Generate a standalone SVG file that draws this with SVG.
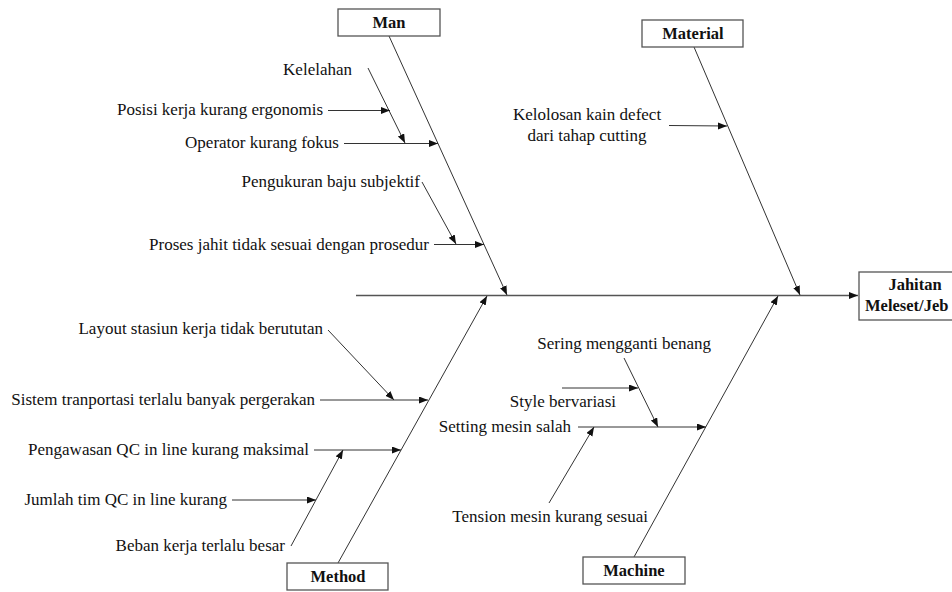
<svg xmlns="http://www.w3.org/2000/svg" width="952" height="592" viewBox="0 0 952 592">
<style>
.t{font-family:"Liberation Serif","Times New Roman",serif;font-size:17px;fill:#111}
.b{font-family:"Liberation Serif","Times New Roman",serif;font-size:16.5px;font-weight:bold;fill:#111;text-anchor:middle}
.e{text-anchor:end}
.box{fill:#fff;stroke:#555;stroke-width:1.3}
.ln{stroke:#333;stroke-width:1;fill:none}
.sp{stroke:#555;stroke-width:1.6;fill:none}
</style>
<defs>
<marker id="ar" markerUnits="userSpaceOnUse" markerWidth="10" markerHeight="8" refX="9" refY="3.5" orient="auto">
<path d="M0,0 L9,3.5 L0,7 z" fill="#111"/>
</marker>
</defs>
<rect width="952" height="592" fill="#fff"/>
<g id="connectors">
<line class="sp" x1="356" y1="295.5" x2="858" y2="295.5" marker-end="url(#ar)"/>
<line class="ln" x1="389" y1="36" x2="507" y2="295" marker-end="url(#ar)"/>
<line class="ln" x1="694" y1="47" x2="800" y2="295" marker-end="url(#ar)"/>
<line class="ln" x1="338" y1="563" x2="487" y2="296" marker-end="url(#ar)"/>
<line class="ln" x1="634" y1="557" x2="778" y2="296" marker-end="url(#ar)"/>
<line class="ln" x1="368" y1="68" x2="405" y2="143" marker-end="url(#ar)"/>
<line class="ln" x1="328" y1="110.5" x2="390" y2="110.5" marker-end="url(#ar)"/>
<line class="ln" x1="344" y1="143.5" x2="438" y2="143.5" marker-end="url(#ar)"/>
<line class="ln" x1="422" y1="182" x2="456" y2="244" marker-end="url(#ar)"/>
<line class="ln" x1="434" y1="244.5" x2="484" y2="244.5" marker-end="url(#ar)"/>
<line class="ln" x1="669" y1="125.5" x2="727" y2="126" marker-end="url(#ar)"/>
<line class="ln" x1="328" y1="330" x2="394" y2="400" marker-end="url(#ar)"/>
<line class="ln" x1="320" y1="400" x2="428" y2="400" marker-end="url(#ar)"/>
<line class="ln" x1="314" y1="450" x2="401" y2="450" marker-end="url(#ar)"/>
<line class="ln" x1="232" y1="500" x2="316" y2="500" marker-end="url(#ar)"/>
<line class="ln" x1="291" y1="546" x2="343" y2="450" marker-end="url(#ar)"/>
<line class="ln" x1="624" y1="358" x2="658" y2="427" marker-end="url(#ar)"/>
<line class="ln" x1="562" y1="388" x2="638" y2="388" marker-end="url(#ar)"/>
<line class="ln" x1="578" y1="427" x2="706" y2="427" marker-end="url(#ar)"/>
<line class="ln" x1="549" y1="503" x2="594" y2="427" marker-end="url(#ar)"/>
</g>
<g id="effect">
<rect class="box" x="859" y="272" width="120" height="48"/>
<text class="b" x="915" y="290">Jahitan</text>
<text class="b" x="865" y="311" style="text-anchor:start">Meleset/Jeb</text>
</g>
<g id="man">
<rect class="box" x="338" y="9" width="102" height="27"/>
<text class="b" x="389" y="28">Man</text>
</g>
<g id="material">
<rect class="box" x="642" y="20" width="101" height="27"/>
<text class="b" x="693" y="39">Material</text>
</g>
<g id="method">
<rect class="box" x="287" y="563" width="101" height="27"/>
<text class="b" x="338" y="582">Method</text>
</g>
<g id="machine">
<rect class="box" x="583" y="557" width="102" height="27"/>
<text class="b" x="634" y="576">Machine</text>
</g>
<g id="man-causes">
<text class="t e" x="352" y="75">Kelelahan</text>
<text class="t e" x="323" y="115">Posisi kerja kurang ergonomis</text>
<text class="t e" x="339" y="148">Operator kurang fokus</text>
<text class="t e" x="420" y="187">Pengukuran baju subjektif</text>
<text class="t e" x="429" y="250">Proses jahit tidak sesuai dengan prosedur</text>
</g>
<g id="material-causes">
<text class="t" x="587" y="120" text-anchor="middle">Kelolosan kain defect</text>
<text class="t" x="587" y="141" text-anchor="middle">dari tahap cutting</text>
</g>
<g id="method-causes">
<text class="t e" x="323" y="334">Layout stasiun kerja tidak berututan</text>
<text class="t e" x="315" y="405">Sistem tranportasi terlalu banyak pergerakan</text>
<text class="t e" x="309" y="455">Pengawasan QC in line kurang maksimal</text>
<text class="t e" x="227" y="505">Jumlah tim QC in line kurang</text>
<text class="t e" x="285" y="551">Beban kerja terlalu besar</text>
</g>
<g id="machine-causes">
<text class="t e" x="711" y="349">Sering mengganti benang</text>
<text class="t e" x="616" y="407">Style bervariasi</text>
<text class="t e" x="571" y="432">Setting mesin salah</text>
<text class="t e" x="648" y="522">Tension mesin kurang sesuai</text>
</g>
</svg>
